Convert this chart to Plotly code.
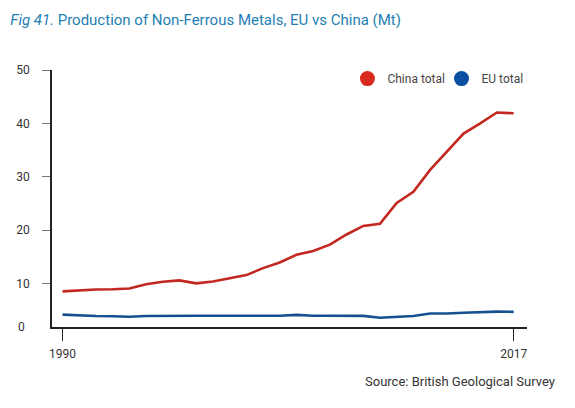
import plotly.graph_objects as go

years = list(range(1990, 2018))
china_total = [8.55, 8.75, 8.9, 8.95, 9.1, 9.9, 10.35, 10.6, 10.05, 10.4,
               11.0, 11.6, 12.9, 13.95, 15.4, 16.1, 17.3, 19.2, 20.8, 21.2,
               25.1, 27.2, 31.3, 34.6, 38.1, 40.0, 42.05, 41.9]
eu_total = [4.2, 4.05, 3.95, 3.9, 3.8, 3.95, 4.0, 4.0, 4.0, 4.0,
            4.0, 4.0, 4.0, 4.0, 4.15, 4.0, 4.0, 4.0, 3.97, 3.6,
            3.8, 3.95, 4.4, 4.4, 4.55, 4.7, 4.75, 4.72]
y_ticks = [10, 20, 30, 40, 50]
x_ticks = [1990, 2017]

red_line = "#c2281f"
blue_line = "#17508f"
font = "Roboto"

fig = go.Figure()
fig.add_trace(go.Scatter(x=years, y=china_total, mode="lines",
                         line=dict(color=red_line, width=2.6), showlegend=False))
fig.add_trace(go.Scatter(x=years, y=eu_total, mode="lines",
                         line=dict(color=blue_line, width=2.6), showlegend=False))
# legend entries as circles
fig.add_trace(go.Scatter(x=[None], y=[None], mode="markers", name="China total",
                         marker=dict(color="#d92a1f", size=15), legend="legend"))
fig.add_trace(go.Scatter(x=[None], y=[None], mode="markers", name="EU total",
                         marker=dict(color="#0b4fa0", size=15), legend="legend2"))

leg_common = dict(orientation="h", y=1.023, yanchor="top",
                  font=dict(size=12, color="#444444"),
                  itemwidth=30, bgcolor="rgba(0,0,0,0)")

fig.update_layout(
    width=575, height=408,
    margin=dict(l=52, r=48, t=70, b=80.5),
    paper_bgcolor="white", plot_bgcolor="white",
    font=dict(family=font, size=12, color="#333333"),
    title=dict(
        text="<i>Fig 41.</i> Production of Non-Ferrous Metals, EU vs China (Mt)",
        x=0.018, xanchor="left", y=0.952, yanchor="middle",
        font=dict(family=font, size=15, color="#1f80b3"),
    ),
    legend=dict(x=0.622, xanchor="left", **leg_common),
    legend2=dict(x=0.82, xanchor="left", **leg_common),
    xaxis=dict(range=[1989.37, 2017.8], tickmode="array", tickvals=x_ticks,
               showgrid=False, zeroline=False,
               showline=True, linecolor="#222222", linewidth=1.5,
               ticks="outside", ticklen=12, tickcolor="#222222", tickwidth=1.2,
               ticklabelstandoff=3,
               tickfont=dict(size=12, color="#333333")),
    yaxis=dict(range=[1.88, 50], tickmode="array", tickvals=y_ticks,
               showgrid=False, zeroline=False,
               showline=True, linecolor="#222222", linewidth=1.5,
               ticks="outside", ticklen=8, tickcolor="#777777", tickwidth=1.2,
               ticklabelstandoff=10,
               tickfont=dict(size=12, color="#333333")),
    annotations=[
        dict(text="0", xref="paper", yref="y", x=0, y=1.88,
             xanchor="right", yanchor="middle", xshift=-25, showarrow=False,
             font=dict(size=12, color="#333333")),
        dict(text="Source: British Geological Survey", xref="paper", yref="paper",
             x=1.063, y=-0.212, xanchor="right", yanchor="middle", showarrow=False,
             font=dict(size=13, color="#333333")),
    ],
)

fig.write_html("out.html", config={"displayModeBar": False},
               post_script="document.body.style.margin='0';")
